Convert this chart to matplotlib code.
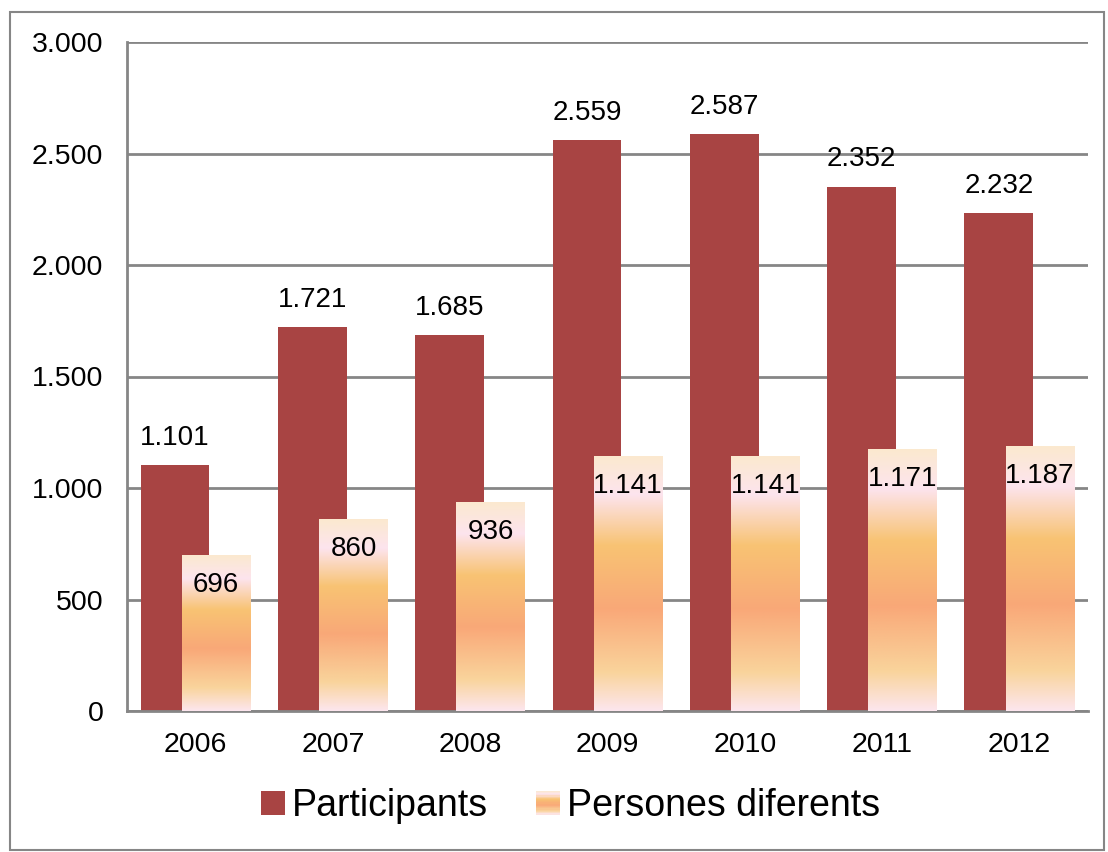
import matplotlib
matplotlib.use("Agg")
import matplotlib.pyplot as plt
import numpy as np
from matplotlib.patches import Rectangle
from matplotlib.colors import LinearSegmentedColormap
from matplotlib.legend_handler import HandlerBase

plt.rcParams['font.family'] = ['Liberation Sans', 'DejaVu Sans']

years = ['2006', '2007', '2008', '2009', '2010', '2011', '2012']
participants = [1101, 1721, 1685, 2559, 2587, 2352, 2232]
persones = [696, 860, 936, 1141, 1141, 1171, 1187]
series_names = ['Participants', 'Persones diferents']
yticks = [0, 500, 1000, 1500, 2000, 2500, 3000]

def fmt(v):
    return f"{v:,}".replace(",", ".")

red = '#A84443'
grad_stops = [(0.0, '#FDE6EE'), (0.15, '#F9D49C'), (0.40, '#F9A878'),
              (0.65, '#F8C373'), (0.85, '#FDE4EE'), (1.0, '#FBE9CF')]
cmap = LinearSegmentedColormap.from_list('g', grad_stops)
grad = np.linspace(0, 1, 256).reshape(-1, 1)

fig = plt.figure(figsize=(11.08, 8.52), dpi=100)
ax = fig.add_axes([127/1108, 1-711/852, (1088-127)/1108, (711-42)/852])

x = np.arange(len(years))
w = 0.5
off = 0.15
ax.bar(x - off, participants, w, color=red, zorder=2)
for xi, v in zip(x, persones):
    x0 = xi + off - w/2
    ax.imshow(grad, cmap=cmap, extent=(x0, x0 + w, 0, v), origin='lower',
              aspect='auto', zorder=3, interpolation='bilinear')
ax.set_xlim(-0.5, len(years)-0.5)
ax.set_ylim(0, 3000)
ax.set_aspect('auto')

for xi, v in zip(x, participants):
    ax.text(xi - off, v + 122, fmt(v), ha='center', va='center', fontsize=20, zorder=5)
for xi, v in zip(x, persones):
    ax.text(xi + off, v - 132, fmt(v), ha='center', va='center', fontsize=20, zorder=5)

ax.set_yticks(yticks)
ax.set_yticklabels([fmt(t) for t in yticks], fontsize=20.5)
ax.set_xticks(x)
ax.set_xticklabels(years, fontsize=20.5)
ax.tick_params(axis='x', length=0, pad=15)
ax.tick_params(axis='y', length=0, pad=17)
ax.yaxis.grid(True, color='#868686', linewidth=2, zorder=0)
ax.set_axisbelow(True)
for s in ['top', 'right']:
    ax.spines[s].set_visible(False)
for s in ['left', 'bottom']:
    ax.spines[s].set_color('#868686')
    ax.spines[s].set_linewidth(2)

class GradHandler(HandlerBase):
    def create_artists(self, legend, orig, xd, yd, width, height, fontsize, trans):
        arts = []
        n = 20
        size = height * 0.9
        x0 = xd + (width - size) / 2
        y0 = yd + (height - size) / 2
        for i in range(n):
            c = cmap(1 - (i + 0.5) / n)
            r = Rectangle((x0, y0 + size * (n - 1 - i) / n), size, size / n + 0.3,
                          facecolor=c, edgecolor='none', transform=trans)
            arts.append(r)
        return arts

class SqHandler(HandlerBase):
    def create_artists(self, legend, orig, xd, yd, width, height, fontsize, trans):
        size = height * 0.9
        x0 = xd + (width - size) / 2
        y0 = yd + (height - size) / 2
        return [Rectangle((x0, y0), size, size, facecolor=red, edgecolor='none', transform=trans)]

h1 = Rectangle((0, 0), 1, 1)
h2 = Rectangle((0, 0), 1, 1, facecolor='orange')
fig.legend([h1, h2], series_names, loc='center', bbox_to_anchor=(571/1108, 1-806/852),
           ncol=2, frameon=False, fontsize=27, handler_map={h1: SqHandler(), h2: GradHandler()},
           handlelength=0.6, handletextpad=0.2, columnspacing=1.3)

fig.patches.append(Rectangle((10/1108, 1-850/852), 1094/1108, 838/852, transform=fig.transFigure,
                             fill=False, edgecolor='#868686', linewidth=1.5))

fig.savefig('out.png', dpi=100)
